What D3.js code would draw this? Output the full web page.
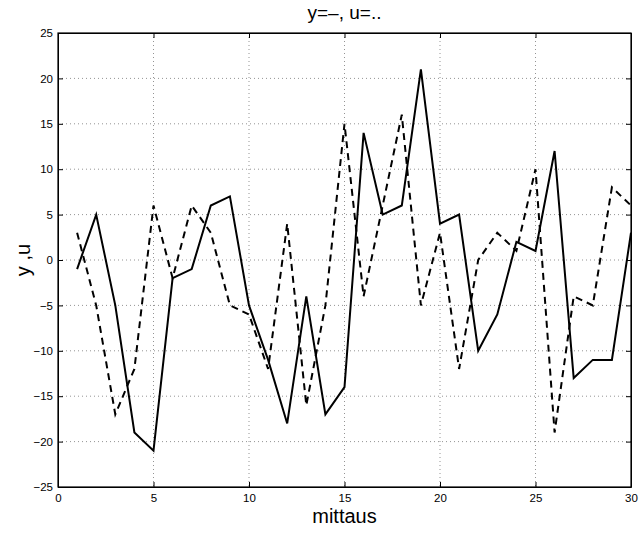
<!DOCTYPE html>
<html>
<head>
<meta charset="utf-8">
<script src="https://d3js.org/d3.v7.min.js"></script>
<style>
  body { margin: 0; background: #fff; }
  svg { font-family: "Liberation Sans", Arial, sans-serif; }
</style>
</head>
<body>
<svg id="chart"></svg>
<script>
const steps = d3.range(1, 31);
const yValues = [-1, 5, -5, -19, -21, -2, -1, 6, 7, -5, -11, -18, -4, -17, -14,
                 14, 5, 6, 21, 4, 5, -10, -6, 2, 1, 12, -13, -11, -11, 3];
const uValues = [3, -5, -17, -12, 6, -2, 6, 3, -5, -6, -12, 4, -16, -5, 15,
                 -4, 6, 16, -5, 3, -12, 0, 3, 1, 10, -19, -4, -5, 8, 6];
const xTicks = [0, 5, 10, 15, 20, 25, 30];
const yTicks = [-25, -20, -15, -10, -5, 0, 5, 10, 15, 20, 25];

const width = 642, height = 533;
const margin = { top: 33, right: 11, bottom: 46, left: 58 };
const w = width - margin.left - margin.right;
const h = height - margin.top - margin.bottom;

const svg = d3.select("#chart").attr("width", width).attr("height", height);
const g = svg.append("g").attr("transform", `translate(${margin.left},${margin.top})`);

const x = d3.scaleLinear().domain([0, 30]).range([0, w]);
const y = d3.scaleLinear().domain([-25, 25]).range([h, 0]);
const fmt = d => d < 0 ? "\u2212" + Math.abs(d) : String(d);

// grid
g.append("g").selectAll("line").data(xTicks.slice(1, -1)).join("line")
  .attr("x1", d => x(d)).attr("x2", d => x(d)).attr("y1", 0).attr("y2", h)
  .attr("stroke", "#666").attr("stroke-width", 0.7).attr("stroke-dasharray", "1,3");
g.append("g").selectAll("line").data(yTicks.slice(1, -1)).join("line")
  .attr("y1", d => y(d)).attr("y2", d => y(d)).attr("x1", 0).attr("x2", w)
  .attr("stroke", "#666").attr("stroke-width", 0.7).attr("stroke-dasharray", "1,3");

// axes (inner ticks, box)
const tick = 5;
g.append("g").attr("transform", `translate(0,${h})`)
  .call(d3.axisBottom(x).tickValues(xTicks).tickSizeInner(-tick).tickSizeOuter(0).tickPadding(7).tickFormat(fmt));
g.append("g").call(d3.axisTop(x).tickValues(xTicks).tickSizeInner(-tick).tickSizeOuter(0).tickFormat(""));
g.append("g")
  .call(d3.axisLeft(y).tickValues(yTicks).tickSizeInner(-tick).tickSizeOuter(0).tickPadding(5).tickFormat(fmt));
g.append("g").attr("transform", `translate(${w},0)`)
  .call(d3.axisRight(y).tickValues(yTicks).tickSizeInner(-tick).tickSizeOuter(0).tickFormat(""));
g.selectAll(".domain").attr("stroke", "#000").attr("stroke-width", 1);
g.selectAll(".tick line").attr("stroke", "#000");
g.selectAll(".tick text").attr("font-size", 11.5).attr("fill", "#000")
  .attr("font-family", "Liberation Sans, Arial, sans-serif");
g.append("rect").attr("width", w).attr("height", h)
  .attr("fill", "none").attr("stroke", "#000").attr("stroke-width", 1.2);

// lines
const line = vals => d3.line().x((d, i) => x(steps[i])).y(d => y(d))(vals);
g.append("path").attr("d", line(uValues)).attr("fill", "none")
  .attr("stroke", "#000").attr("stroke-width", 2).attr("stroke-dasharray", "7,5");
g.append("path").attr("d", line(yValues)).attr("fill", "none")
  .attr("stroke", "#000").attr("stroke-width", 2).attr("stroke-linejoin", "miter");

// labels
svg.append("text").attr("x", margin.left + w / 2).attr("y", 19)
  .attr("text-anchor", "middle").attr("font-size", 19).text("y=\u2013, u=..");
svg.append("text").attr("x", margin.left + w / 2).attr("y", 523)
  .attr("text-anchor", "middle").attr("font-size", 20).text("mittaus");
svg.append("text").attr("transform", `translate(30,${margin.top + h / 2}) rotate(-90)`)
  .attr("text-anchor", "middle").attr("font-size", 20).text("y ,u");
</script>
</body>
</html>
